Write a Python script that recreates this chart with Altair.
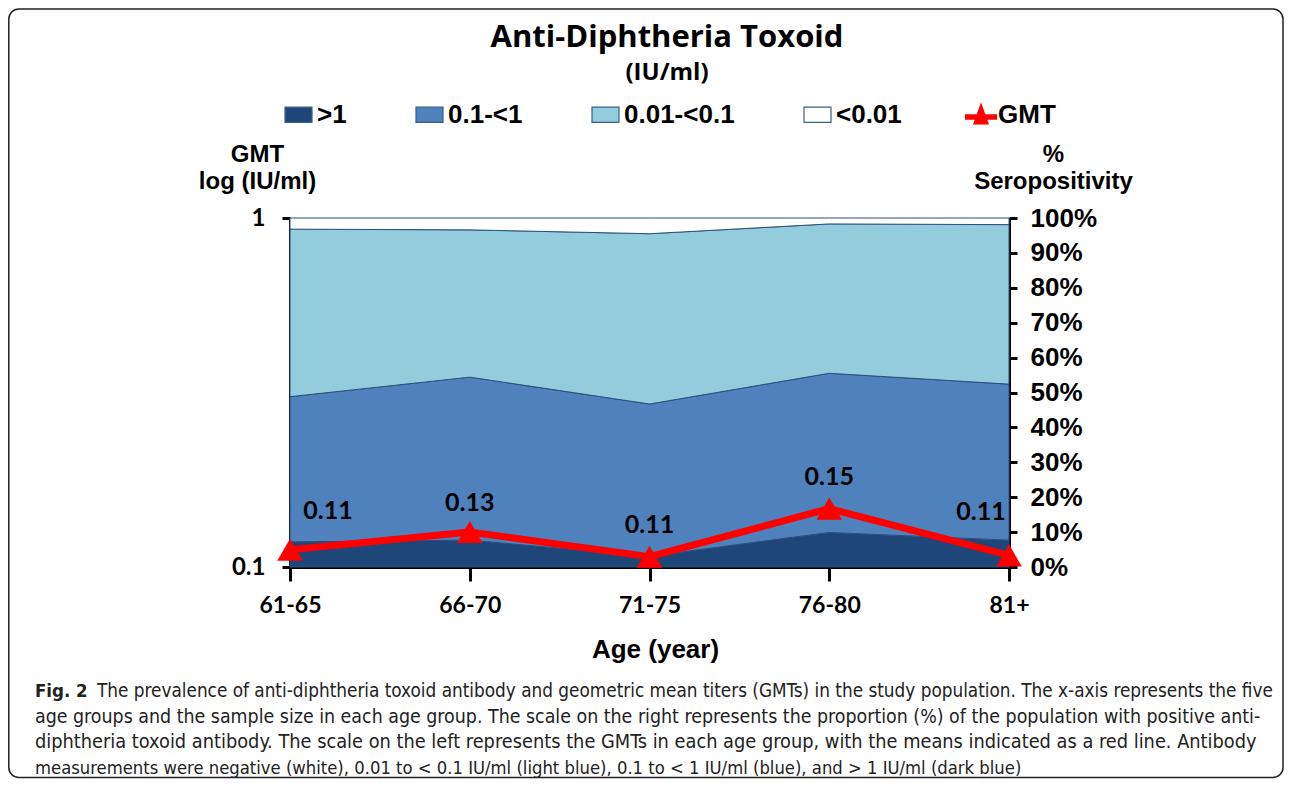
import altair as alt
import pandas as pd

# ---------------- data ----------------
ages = ["61-65", "66-70", "71-75", "76-80", "81+"]
bands = [">1", "0.1-<1", "0.01-<0.1", "<0.01"]
pct_gt1 = [7.2, 7.7, 3.1, 9.9, 7.7]
pct_01_1 = [41.6, 46.7, 43.6, 45.6, 44.7]
pct_001_01 = [48.0, 42.2, 48.8, 42.8, 45.7]
pct_lt001 = [3.2, 3.4, 4.5, 1.7, 1.9]
gmt = [0.112, 0.126, 0.107, 0.147, 0.108]
gmt_labels = ["0.11", "0.13", "0.11", "0.15", "0.11"]
band_colors = ["#1F4678", "#4F81BD", "#93CDDD", "#FFFFFF"]
pct_ticks = [0, 10, 20, 30, 40, 50, 60, 70, 80, 90, 100]
gmt_ticks = [0.1, 1]

title_text = "Anti-Diphtheria Toxoid"
subtitle_text = "(IU/ml)"
caption_fig = "Fig. 2"
caption_lines = [
    "The prevalence of anti-diphtheria toxoid antibody and geometric mean titers (GMTs) in the study population. The x-axis represents the five",
    "age groups and the sample size in each age group. The scale on the right represents the proportion (%) of the population with positive anti-",
    "diphtheria toxoid antibody. The scale on the left represents the GMTs in each age group, with the means indicated as a red line. Antibody",
    "measurements were negative (white), 0.01 to < 0.1 IU/ml (light blue), 0.1 to < 1 IU/ml (blue), and > 1 IU/ml (dark blue)",
]

rows = []
for i, a in enumerate(ages):
    for r, (b, vals) in enumerate(zip(bands, [pct_gt1, pct_01_1, pct_001_01, pct_lt001])):
        rows.append({"age": a, "band": b, "pct": vals[i], "rank": r})
area_df = pd.DataFrame(rows)
gmt_df = pd.DataFrame({"age": ages, "gmt": gmt, "label": gmt_labels, "series": ["GMT"] * len(ages)})

ARIAL = "Liberation Sans"
CAL = "Lato"
NARROW = "Liberation Sans Narrow, DejaVu Sans Condensed, Roboto Condensed, sans-serif"
RECT_PATH = "M-1,-0.56L1,-0.56L1,0.56L-1,0.56Z"
GMT_PATH = ("M0,-0.8L0.268,-0.05L1,-0.05L1,0.3L0.393,0.3L0.5,0.6L-0.5,0.6"
            "L-0.393,0.3L-1,0.3L-1,-0.05L-0.268,-0.05Z")

W, H = 719, 349

x_enc = alt.X(
    "age:O", sort=ages, scale=alt.Scale(type="point", padding=0),
    axis=alt.Axis(
        title="Age (year)", labelAngle=0, labelFont=CAL, labelFontSize=23,
        labelFontWeight="bold", labelColor="black", labelPadding=13,
        tickSize=14, tickWidth=3, tickColor="black", domainColor="black",
        domainWidth=3, grid=False, titleFont=ARIAL, titleFontSize=26,
        titleFontWeight="bold", titleColor="black", titleX=365, titleY=90,
        titleAlign="center", titleBaseline="alphabetic",
    ),
)

# ---------------- frame ----------------
frame = alt.Chart(pd.DataFrame({"k": [0]})).mark_rect(
    fillOpacity=0, stroke="#222222", strokeWidth=1.5, cornerRadius=10
).encode(x=alt.value(-281.2), x2=alt.value(993), y=alt.value(-209), y2=alt.value(559.5))

# ---------------- stacked areas ----------------
area = alt.Chart(area_df).mark_area(stroke="#2B4F7E", strokeWidth=1, opacity=1).encode(
    x=x_enc,
    y=alt.Y(
        "pct:Q", stack="zero", scale=alt.Scale(domain=[0, 100], nice=False),
        axis=alt.Axis(
            orient="right", values=pct_ticks, labelExpr="datum.value + '%'",
            labelFont=ARIAL, labelFontSize=26, labelFontWeight="bold",
            labelColor="black", labelPadding=13, labelOverlap=False,
            tickSize=8, tickWidth=3, tickColor="black", domainColor="black",
            domainWidth=3, grid=False, title=["%", "Seropositivity"],
            titleAngle=0, titleAlign="center", titleBaseline="alphabetic",
            titleX=44, titleY=-56.5, titleLineHeight=27, titleFont=ARIAL,
            titleFontSize=24, titleFontWeight="bold", titleColor="black",
        ),
    ),
    color=alt.Color(
        "band:N", scale=alt.Scale(domain=bands, range=band_colors),
        legend=alt.Legend(
            title=None, orient="none", legendX=-6, legendY=-118,
            direction="horizontal", symbolType=RECT_PATH, symbolSize=729,
            symbolStrokeColor="#3A5F8F", symbolStrokeWidth=1.2, symbolOpacity=1,
            labelFont=ARIAL, labelFontSize=26, labelFontWeight="bold",
            labelColor="black", labelOffset=4, columnPadding=66, padding=0,
            labelLimit=0,
        ),
    ),
    order=alt.Order("rank:Q"),
)

# ---------------- GMT line ----------------
y_gmt = alt.Y(
    "gmt:Q", scale=alt.Scale(type="log", domain=[0.1, 1]),
    axis=alt.Axis(
        orient="left", values=gmt_ticks, format="~g", labelFont=CAL,
        labelFontSize=24, labelFontWeight="bold", labelColor="black",
        labelPadding=17, tickSize=8, tickWidth=3, tickColor="black",
        domainColor="black", domainWidth=3, grid=False,
        title=["GMT", "log (IU/ml)"], titleAngle=0, titleAlign="center",
        titleBaseline="alphabetic", titleX=-33, titleY=-56.5,
        titleLineHeight=27, titleFont=ARIAL, titleFontSize=24,
        titleFontWeight="bold", titleColor="black",
    ),
)

line = alt.Chart(gmt_df).mark_line(color="#FF0000", strokeWidth=7).encode(x=x_enc, y=y_gmt)
pts = alt.Chart(gmt_df).mark_point(
    shape="triangle-up", filled=True, color="#FF0000", size=650, opacity=1
).encode(x=x_enc, y=y_gmt)

legend_gmt = alt.Chart(gmt_df).transform_filter("false").mark_point(
    filled=True, color="#FF0000", opacity=1
).encode(
    x=x_enc, y=y_gmt,
    shape=alt.Shape(
        "series:N", scale=alt.Scale(domain=["GMT"], range=[GMT_PATH]),
        legend=alt.Legend(
            title=None, orient="none", legendX=675, legendY=-119,
            direction="horizontal", symbolSize=1024, symbolFillColor="#FF0000",
            symbolStrokeColor="#FF0000", symbolStrokeWidth=0, symbolOpacity=1,
            labelFont=ARIAL, labelFontSize=26, labelFontWeight="bold",
            labelColor="black", labelOffset=1, padding=0,
        ),
    ),
)


def gmt_text(expr, dx, dy):
    return alt.Chart(gmt_df).transform_filter(expr).mark_text(
        font=CAL, fontSize=25, fontWeight="bold", color="black",
        dx=dx, dy=dy, baseline="middle",
    ).encode(x=x_enc, y=y_gmt, text="label:N")


t_first = gmt_text("datum.age == '61-65'", 38, -39)
t_mid = gmt_text("datum.age == '66-70'", 0, -29)
t_mid2 = gmt_text("datum.age == '71-75' || datum.age == '76-80'", 0, -32)
t_last = gmt_text("datum.age == '81+'", -28, -43)

gmt_layer = alt.layer(line, pts, legend_gmt, t_first, t_mid, t_mid2, t_last)


# ---------------- free texts ----------------
def free_text(txt, x, y, font, size, weight="bold", align="center", color="black"):
    return alt.Chart(pd.DataFrame({"t": [txt]})).mark_text(
        font=font, fontSize=size, fontWeight=weight, align=align,
        baseline="alphabetic", color=color,
    ).encode(x=alt.value(x), y=alt.value(y), text="t:N")


CAPC = "#222222"
title = free_text(title_text, 377, -171, "Open Sans", 31)
subtitle = free_text(subtitle_text, 377, -138, "Open Sans", 24)
cap0 = free_text(caption_fig, -255, 479, NARROW, 18.5, "bold", "left", CAPC)
cap1 = free_text(caption_lines[0], -193, 479, NARROW, 18.8, "normal", "left", CAPC)
cap2 = free_text(caption_lines[1], -255, 505, NARROW, 19.4, "normal", "left", CAPC)
cap3 = free_text(caption_lines[2], -255, 530, NARROW, 19.8, "normal", "left", CAPC)
cap4 = free_text(caption_lines[3], -255, 556, NARROW, 18.3, "normal", "left", CAPC)

chart = alt.layer(
    frame, area, gmt_layer, title, subtitle, cap0, cap1, cap2, cap3, cap4
).resolve_scale(y="independent").properties(
    width=W, height=H, autosize="none",
    padding={"left": 282, "top": 210, "right": 275, "bottom": 212},
).configure_view(stroke="transparent")

chart.save("out.html", embed_options={"renderer": "svg", "actions": False})
